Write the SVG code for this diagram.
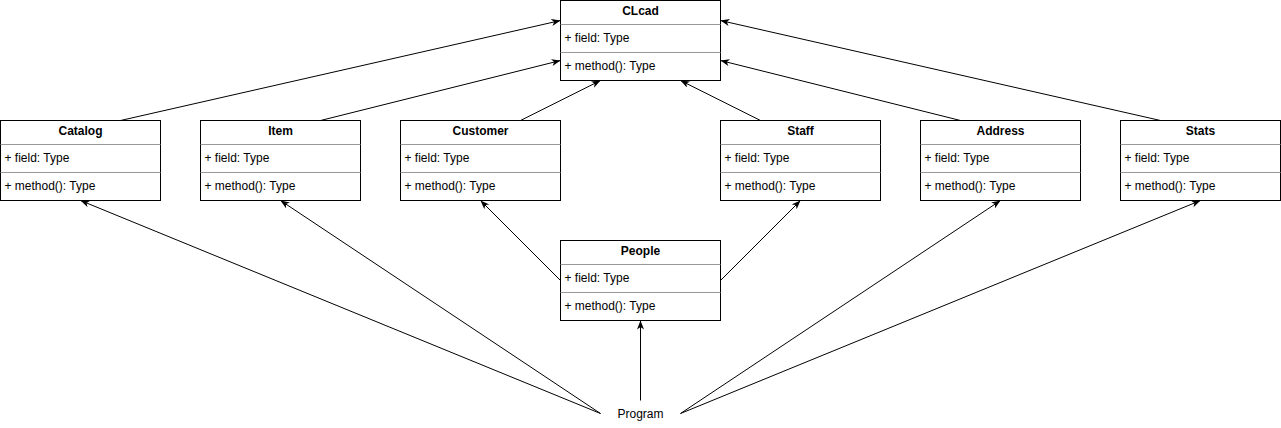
<svg xmlns="http://www.w3.org/2000/svg" width="1281" height="428" viewBox="0 0 1281 428">
<style>
.box{fill:#fff;stroke:#000;stroke-width:1}
.sep{stroke:#999;stroke-width:1}
.t{font-family:"Liberation Sans",Arial,sans-serif;font-size:12px;fill:#000}
.title{font-weight:bold;text-anchor:middle}
.c{fill:none;stroke:#000;stroke-width:1}
</style>
<defs>
<marker id="arr" markerUnits="userSpaceOnUse" markerWidth="12" markerHeight="10" refX="9" refY="3.5" orient="auto">
<path d="M0,0 L9,3.5 L0,7 L2.5,3.5 Z" fill="#000"/>
</marker>
</defs>
<g transform="translate(0.5,0.5)">
<g id="connectors">
<path class="c" d="M120,120 L560,20" marker-end="url(#arr)"/>
<path class="c" d="M320,120 L560,60" marker-end="url(#arr)"/>
<path class="c" d="M520,120 L600,80" marker-end="url(#arr)"/>
<path class="c" d="M760,120 L680,80" marker-end="url(#arr)"/>
<path class="c" d="M960,120 L720,60" marker-end="url(#arr)"/>
<path class="c" d="M1160,120 L720,20" marker-end="url(#arr)"/>
<path class="c" d="M560,280 L480,200" marker-end="url(#arr)"/>
<path class="c" d="M720,280 L800,200" marker-end="url(#arr)"/>
<path class="c" d="M640,400 L640,320" marker-end="url(#arr)"/>
<path class="c" d="M600,413 L80,200" marker-end="url(#arr)"/>
<path class="c" d="M600,413 L280,200" marker-end="url(#arr)"/>
<path class="c" d="M680,413 L1000,200" marker-end="url(#arr)"/>
<path class="c" d="M680,413 L1200,200" marker-end="url(#arr)"/>
</g>
<g id="CLcad">
<rect class="box" x="560" y="0" width="160" height="80"/>
<line class="sep" x1="560" y1="24" x2="720" y2="24"/>
<line class="sep" x1="560" y1="52" x2="720" y2="52"/>
<text class="t title" x="640" y="14">CLcad</text>
<text class="t" x="564" y="41">+ field: Type</text>
<text class="t" x="564" y="69">+ method(): Type</text>
</g>
<g id="Catalog">
<rect class="box" x="0" y="120" width="160" height="80"/>
<line class="sep" x1="0" y1="144" x2="160" y2="144"/>
<line class="sep" x1="0" y1="172" x2="160" y2="172"/>
<text class="t title" x="80" y="134">Catalog</text>
<text class="t" x="4" y="161">+ field: Type</text>
<text class="t" x="4" y="189">+ method(): Type</text>
</g>
<g id="Item">
<rect class="box" x="200" y="120" width="160" height="80"/>
<line class="sep" x1="200" y1="144" x2="360" y2="144"/>
<line class="sep" x1="200" y1="172" x2="360" y2="172"/>
<text class="t title" x="280" y="134">Item</text>
<text class="t" x="204" y="161">+ field: Type</text>
<text class="t" x="204" y="189">+ method(): Type</text>
</g>
<g id="Customer">
<rect class="box" x="400" y="120" width="160" height="80"/>
<line class="sep" x1="400" y1="144" x2="560" y2="144"/>
<line class="sep" x1="400" y1="172" x2="560" y2="172"/>
<text class="t title" x="480" y="134">Customer</text>
<text class="t" x="404" y="161">+ field: Type</text>
<text class="t" x="404" y="189">+ method(): Type</text>
</g>
<g id="Staff">
<rect class="box" x="720" y="120" width="160" height="80"/>
<line class="sep" x1="720" y1="144" x2="880" y2="144"/>
<line class="sep" x1="720" y1="172" x2="880" y2="172"/>
<text class="t title" x="800" y="134">Staff</text>
<text class="t" x="724" y="161">+ field: Type</text>
<text class="t" x="724" y="189">+ method(): Type</text>
</g>
<g id="Address">
<rect class="box" x="920" y="120" width="160" height="80"/>
<line class="sep" x1="920" y1="144" x2="1080" y2="144"/>
<line class="sep" x1="920" y1="172" x2="1080" y2="172"/>
<text class="t title" x="1000" y="134">Address</text>
<text class="t" x="924" y="161">+ field: Type</text>
<text class="t" x="924" y="189">+ method(): Type</text>
</g>
<g id="Stats">
<rect class="box" x="1120" y="120" width="160" height="80"/>
<line class="sep" x1="1120" y1="144" x2="1280" y2="144"/>
<line class="sep" x1="1120" y1="172" x2="1280" y2="172"/>
<text class="t title" x="1200" y="134">Stats</text>
<text class="t" x="1124" y="161">+ field: Type</text>
<text class="t" x="1124" y="189">+ method(): Type</text>
</g>
<g id="People">
<rect class="box" x="560" y="240" width="160" height="80"/>
<line class="sep" x1="560" y1="264" x2="720" y2="264"/>
<line class="sep" x1="560" y1="292" x2="720" y2="292"/>
<text class="t title" x="640" y="254">People</text>
<text class="t" x="564" y="281">+ field: Type</text>
<text class="t" x="564" y="309">+ method(): Type</text>
</g>
<g id="Program">
<text class="t" x="640" y="417" text-anchor="middle">Program</text>
</g>
</g>
</svg>
